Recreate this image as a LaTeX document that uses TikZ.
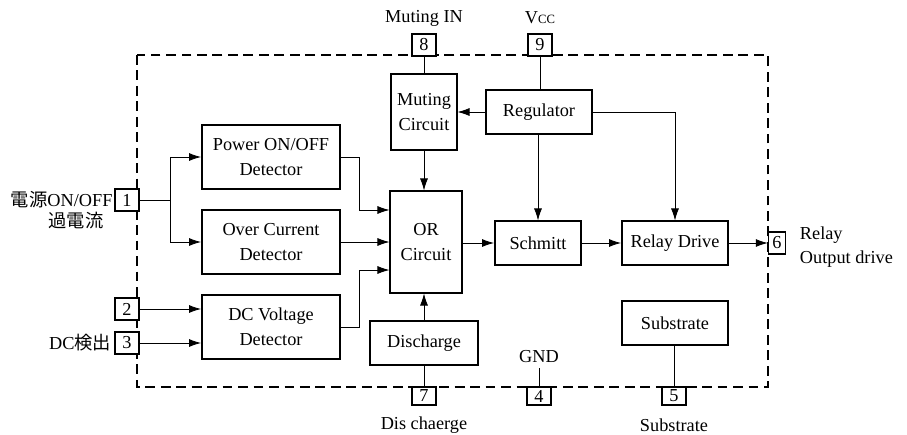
\documentclass[tikz,border=0pt]{standalone}
\usepackage{fontspec}
\setmainfont{Liberation Serif}
\newfontfamily\cjk{Noto Sans CJK JP}
\usetikzlibrary{arrows.meta}
\begin{document}
\begin{tikzpicture}[x=0.025cm, y=-0.025cm, >={Latex[length=3mm,width=2mm]},
  every node/.style={font=\fontsize{13}{17.5}\selectfont},
  blk/.style={draw,line width=1.3pt,align=center,fill=white,inner sep=1pt},
  pin/.style={draw,line width=1.2pt,fill=white,minimum width=0.6cm,minimum height=0.55cm,inner sep=0pt},
  wire/.style={line width=0.6pt}]
\useasboundingbox (0,0) rectangle (907,434);
% chip outline
\draw[line width=1.2pt,dash pattern=on 7pt off 4pt] (137,55) rectangle (768,387);
% blocks
\node[blk,minimum width=3.45cm,minimum height=1.6cm] (pwr) at (271,157) {Power ON/OFF\\Detector};
\node[blk,minimum width=3.45cm,minimum height=1.6cm] (oc) at (271,242) {Over Current\\Detector};
\node[blk,minimum width=3.45cm,minimum height=1.6cm] (dcv) at (271,327) {DC Voltage\\Detector};
\node[blk,minimum width=1.78cm,minimum height=2.53cm] (orc) at (426,242) {OR\\Circuit};
\node[blk,minimum width=1.63cm,minimum height=1.88cm] (mut) at (424,112) {Muting\\Circuit};
\node[blk,minimum width=2.65cm,minimum height=1.1cm] (reg) at (539,112) {Regulator};
\node[blk,minimum width=2.15cm,minimum height=1.08cm] (sch) at (538,243) {Schmitt};
\node[blk,minimum width=2.65cm,minimum height=1.08cm] (rly) at (675,243) {Relay Drive};
\node[blk,minimum width=2.65cm,minimum height=1.08cm] (sub) at (675,323) {Substrate};
\node[blk,minimum width=2.68cm,minimum height=1.08cm] (dis) at (424,343) {Discharge};
% pins
\node[pin] (p1) at (127,200) {1};
\node[pin] (p2) at (127,309) {2};
\node[pin] (p3) at (127,343) {3};
\node[pin] (p8) at (424,45) {8};
\node[pin] (p9) at (540,45) {9};
\node[pin,minimum width=0.42cm] (p6) at (777,243) {6};
\node[pin,minimum height=0.45cm] (p7) at (424,396) {7};
\node[pin,minimum height=0.45cm] (p4) at (539,396) {4};
\node[pin,minimum height=0.45cm] (p5) at (674,396) {5};
% pin labels
\node[anchor=east,inner sep=1pt] (l1) at (p1.west) {{\cjk 電源}ON/OFF};
\node (l1b) at (76,221) {\cjk 過電流};
\node[anchor=east,inner sep=2pt] (l3) at (p3.west) {DC{\cjk 検出}};
\node (l8) at (424,18) {Muting IN};
\node (l9) at (540,18) {V{\fontsize{9}{10}\selectfont CC}};
\node (gnd) at (539,357) {GND};
\node (l7) at (424,425) {Dis chaerge};
\node (l5) at (674,425) {Substrate};
\node[anchor=west,align=left] (l6) at (795,247) {Relay\\Output drive};
% connections
\coordinate (j1) at (170,200);
\draw[wire] (p1) -- (j1);
\draw[wire,->] (j1) |- (pwr);
\draw[wire,->] (j1) |- (oc);
\draw[wire,->] (p2) -- (p2 -| dcv.west);
\draw[wire,->] (p3) -- (p3 -| dcv.west);
\draw[wire,->] (pwr.east) -- ++(18,0) |- ([yshift=0.8cm]orc.west);
\draw[wire,->] (oc) -- (orc);
\draw[wire,->] (dcv.east) -- ++(18,0) |- ([yshift=-0.7cm]orc.west);
\draw[wire,->] (mut.south) -- (mut.south |- orc.north);
\draw[wire,->] (dis.north) -- (dis.north |- orc.south);
\draw[wire] (p8) -- (mut.north -| p8);
\draw[wire] (p9) -- (reg.north -| p9);
\draw[wire,->] (reg) -- (mut);
\draw[wire,->] (reg.south -| sch) -- (sch);
\draw[wire,->] (reg.east) -| (rly.north);
\draw[wire,->] (orc.east |- sch) -- (sch);
\draw[wire,->] (sch) -- (rly);
\draw[wire,->] (rly) -- (p6);
\draw[wire] (sub.south -| p5) -- (p5);
\draw[wire] (dis.south) -- (p7);
\draw[wire] (p4) -- (gnd);
\end{tikzpicture}
\end{document}
